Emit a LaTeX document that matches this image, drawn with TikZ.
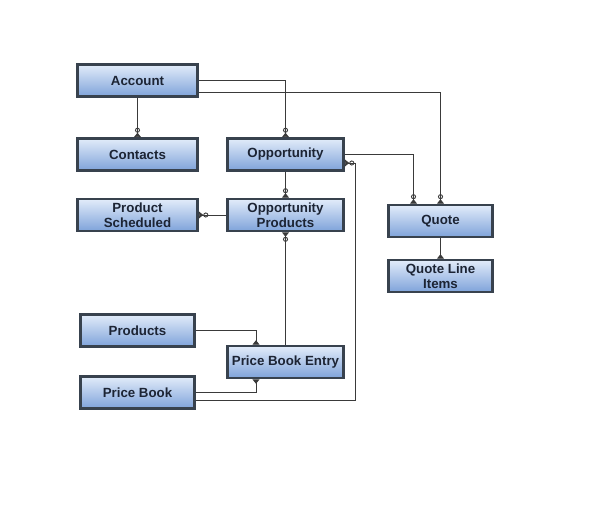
\documentclass[tikz,border=0pt]{standalone}
\usepackage{fontspec}
\setmainfont{Liberation Sans}
\usetikzlibrary{arrows.meta,shadings}
\definecolor{boxtop}{HTML}{E2ECFA}
\definecolor{boxbot}{HTML}{7FA3DA}
\definecolor{boxline}{HTML}{38424E}
\definecolor{txt}{HTML}{1C2434}
\definecolor{wire}{HTML}{3A3A3A}
\tikzset{
  ent/.style={draw=boxline, line width=2.6pt, top color=boxtop, bottom color=boxbot,
    minimum height=32pt, inner sep=1pt, align=center, text=txt,
    font=\fontsize{13.3}{14.5}\selectfont\bfseries},
  wire/.style={draw=wire, line width=0.9pt},
  cf/.style={wire, -{Circle[open,length=5pt,width=5pt,line width=0.9pt] Triangle[reversed,length=4.5pt,width=7pt]}},
  ft/.style={wire, -{Triangle[reversed,length=4.5pt,width=7pt]}}
}
\begin{document}
\begin{tikzpicture}[x=1pt,y=-1pt]
\useasboundingbox (0,0) rectangle (608,508);
\node[ent, minimum width=120pt] (acc) at (137.5,80.5) {Account};
\node[ent, minimum width=120pt] (con) at (137.5,154.5) {Contacts};
\node[ent, minimum width=116pt] (opp) at (285.5,154.5) {Opportunity};
\node[ent, minimum width=120pt] (ps) at (137.5,215) {Product\\Scheduled};
\node[ent, minimum width=116pt] (op) at (285.5,215) {Opportunity\\Products};
\node[ent, minimum width=104pt] (quote) at (440.5,221) {Quote};
\node[ent, minimum width=104pt] (qli) at (440.5,276) {Quote Line\\Items};
\node[ent, minimum width=114pt] (prod) at (137.5,330.5) {Products};
\node[ent, minimum width=116pt] (pbe) at (285.5,362) {Price Book Entry};
\node[ent, minimum width=114pt] (pb) at (137.5,392.5) {Price Book};
\coordinate (c1) at (355,163);

\draw[cf] (acc.south) -- (con.north);
\draw[cf] (acc.east) -| (opp.north);
\draw[cf] ([yshift=-12pt]acc.east) -| (quote.north);
\draw[cf] (opp.east) -| ([xshift=-27pt]quote.north);
\draw[cf] ([yshift=-8pt]pb.east) -| (c1) -- (c1 -| opp.east);
\draw[cf] (opp.south) -- (op.north);
\draw[cf] (op.west) -- (ps.east);
\draw[cf] (pbe.north) -- (op.south);
\draw[ft] (prod.east) -| ([xshift=-29.5pt]pbe.north);
\draw[ft] (pb.east) -| ([xshift=-29.5pt]pbe.south);
\draw[ft] (quote.south) -- (qli.north);
\end{tikzpicture}
\end{document}
